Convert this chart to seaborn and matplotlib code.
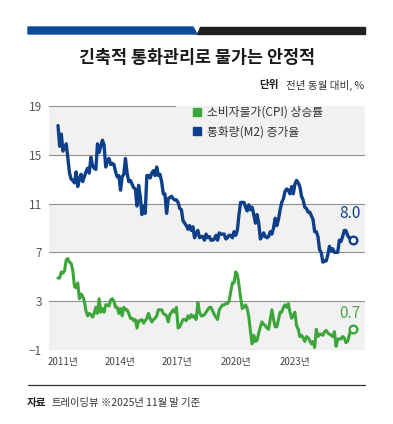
import matplotlib
matplotlib.use("Agg")
import matplotlib.pyplot as plt
from matplotlib.patches import Polygon
from matplotlib.lines import Line2D
import numpy as np
import pandas as pd
import seaborn as sns

# monthly, Jan 2011 .. Nov 2025 (year-on-year %)
cpi = [4.9, 4.9, 5.4, 5.3, 5.5, 6.4, 6.5, 6.2, 6.1, 5.5, 4.2, 4.1,
       4.5, 3.2, 3.6, 3.4, 3.0, 2.2, 1.8, 2.0, 1.9, 1.7, 2.0, 2.5,
       2.0, 3.2, 2.1, 2.4, 2.1, 2.7, 2.7, 2.6, 3.1, 3.2, 3.0, 2.5,
       2.5, 2.0, 2.4, 1.8, 2.5, 2.3, 2.3, 2.0, 1.6, 1.6, 1.4, 1.5,
       0.8, 1.4, 1.4, 1.5, 1.2, 1.4, 1.6, 2.0, 1.6, 1.3, 1.5, 1.6,
       1.8, 2.3, 2.3, 2.3, 2.0, 1.9, 1.8, 1.3, 1.9, 2.1, 2.3, 2.1,
       2.5, 0.8, 0.9, 1.2, 1.5, 1.5, 1.4, 1.8, 1.6, 1.9, 1.7, 1.8,
       1.5, 2.9, 2.1, 1.8, 1.8, 1.9, 2.1, 2.3, 2.5, 2.5, 2.2, 1.9,
       1.7, 1.5, 2.3, 2.5, 2.7, 2.7, 2.8, 2.8, 3.0, 3.8, 4.5, 4.5,
       5.4, 5.2, 4.3, 3.3, 2.4, 2.5, 2.7, 2.4, 1.7, 0.5, -0.5, 0.2,
       -0.3, -0.2, 0.4, 0.9, 1.3, 1.1, 1.0, 0.8, 0.7, 1.5, 2.3, 1.5,
       0.9, 0.9, 1.5, 2.1, 2.1, 2.5, 2.7, 2.5, 2.8, 2.1, 1.6, 1.8,
       2.1, 1.0, 0.7, 0.1, 0.2, 0.0, -0.3, 0.1, 0.0, -0.2, -0.5, -0.3,
       -0.8, 0.7, 0.1, 0.3, 0.3, 0.2, 0.5, 0.6, 0.4, 0.3, 0.2, 0.1,
       0.5, -0.7, -0.1, -0.1, -0.1, 0.1, 0.0, -0.4, -0.3, 0.2, 0.7]

m2 = [17.4, 15.7, 16.7, 15.3, 15.6, 15.9, 14.7, 13.5, 13.0, 12.9, 12.7, 13.6,
      12.4, 13.0, 13.4, 12.8, 13.2, 13.6, 13.9, 13.5, 14.8, 14.1, 13.9, 13.8,
      15.9, 15.2, 15.7, 16.2, 15.8, 14.0, 14.5, 14.7, 14.2, 14.3, 14.2, 13.6,
      13.2, 13.3, 12.1, 13.2, 13.4, 14.7, 13.5, 12.8, 12.9, 12.6, 12.3, 12.2,
      10.8, 12.5, 11.6, 10.1, 10.8, 10.2, 13.3, 13.3, 13.1, 13.5, 13.7, 13.3,
      14.0, 13.3, 13.4, 12.8, 11.8, 11.8, 10.2, 11.4, 11.5, 11.6, 11.4, 11.3,
      11.3, 11.1, 10.6, 10.5, 9.6, 9.4, 9.2, 8.9, 9.2, 8.8, 9.1, 8.2,
      8.6, 8.8, 8.2, 8.3, 8.3, 8.0, 8.5, 8.2, 8.3, 8.0, 8.0, 8.1,
      8.4, 8.0, 8.6, 8.5, 8.5, 8.5, 8.1, 8.2, 8.4, 8.4, 8.2, 8.7,
      8.4, 8.8, 10.1, 11.1, 11.1, 11.1, 10.7, 10.4, 10.9, 10.5, 10.7, 10.1,
      9.4, 10.1, 9.4, 8.1, 8.3, 8.6, 8.3, 8.2, 8.3, 8.7, 8.5, 9.0,
      9.8, 9.2, 9.7, 10.5, 11.1, 11.4, 12.0, 12.2, 12.1, 11.8, 12.4, 11.8,
      12.6, 12.9, 12.7, 12.4, 11.6, 11.3, 10.7, 10.6, 10.3, 10.3, 10.0, 9.7,
      8.7, 8.7, 8.3, 7.2, 7.0, 6.2, 6.3, 6.3, 6.8, 7.5, 7.1, 7.3,
      7.0, 7.0, 7.0, 8.0, 7.9, 8.3, 8.8, 8.8, 8.4, 8.2, 8.0]

year_labels = ["2011년", "2014년", "2017년", "2020년", "2023년"]
y_ticks = [-1, 3, 7, 11, 15, 19]
legend_labels = ["소비자물가(CPI) 상승률", "통화량(M2) 증가율"]

navy = "#0d3f8a"
green = "#3da63a"
W, H = 393, 424

sns.set_style("white")
plt.rcParams["font.family"] = ["Noto Sans CJK KR", "DejaVu Sans"]

df = pd.DataFrame({"x": 2011 + np.arange(len(m2)) / 12, "m2": m2, "cpi": cpi})

fig = plt.figure(figsize=(W / 100, H / 100), dpi=100)
ax = fig.add_axes([49 / W, 74 / H, 316 / W, 244 / H])

# alternating bands + gridlines
for lo, hi in [(15, 19), (7, 11), (-1, 3)]:
    ax.axhspan(lo, hi, color="#f1f1f1", zorder=0, lw=0)
for v in y_ticks:
    xmax = 0.4 if v == 19 else 1
    ax.axhline(v, xmin=0, xmax=xmax, color="#8f8f8f", lw=0.8, zorder=1)

sns.lineplot(data=df, x="x", y="m2", color=navy, lw=2.4, ax=ax, zorder=3)
sns.lineplot(data=df, x="x", y="cpi", color=green, lw=2.2, ax=ax, zorder=3)

# end markers and value labels
last = df.iloc[-1]
for col, c, lab, dy in [("m2", navy, "8.0", 19), ("cpi", "#4aa84a", "0.7", 11)]:
    ax.plot(last["x"] + 0.1, last[col], marker="o", ms=5.5, mfc="white",
            mec=c if col == "m2" else green, mew=1.7, zorder=4)
    ax.annotate(lab, (last["x"], last[col]), xytext=(-1, dy),
                textcoords="offset points", ha="center", va="center",
                fontsize=11, color=c)

ax.set_xlim(2010.544, 2026.55)
ax.set_ylim(-1, 19)
ax.set_xticks([2011.25, 2014.15, 2017.05, 2020.0, 2023.0])
ax.set_xticklabels(year_labels)
ax.set_yticks(y_ticks)
ax.set_yticklabels(["−1" if v < 0 else str(v) for v in y_ticks])
ax.tick_params(axis="x", length=0, pad=5, labelsize=7, labelcolor="#444444")
ax.tick_params(axis="y", length=0, pad=5, labelsize=8.5, labelcolor="#555555")
ax.set_xlabel("")
ax.set_ylabel("")
for s in ax.spines.values():
    s.set_visible(False)

handles = [Line2D([], [], marker="s", ls="none", color=green, ms=5.5),
           Line2D([], [], marker="s", ls="none", color=navy, ms=5.5)]
leg = ax.legend(handles, legend_labels, loc="upper left",
                bbox_to_anchor=((186 - 49) / 316, (350 - 100) / 244),
                frameon=False, fontsize=8.5, handlelength=0.8,
                handletextpad=0.5, labelspacing=0.55, borderpad=0)
for t in leg.get_texts():
    t.set_color("#333333")


def fx(px):
    return px / W


def fy(py):
    return 1 - py / H


# top bar
fig.patches.append(Polygon([(fx(28), fy(27)), (fx(193), fy(27)), (fx(197), fy(34)), (fx(28), fy(34))],
                           closed=True, color="#0f4a96", transform=fig.transFigure))
fig.patches.append(Polygon([(fx(200), fy(27)), (fx(365), fy(27)), (fx(365), fy(34)), (fx(197), fy(34))],
                           closed=True, color="#231f20", transform=fig.transFigure))

fig.text(fx(197), fy(58), "긴축적 통화관리로 물가는 안정적", ha="center", va="center",
         fontsize=12.5, fontweight="bold", color="#1a1a1a")
fig.text(fx(279), fy(85), "단위", ha="right", va="center", fontsize=7.6,
         fontweight="bold", color="#222222")
fig.text(fx(364), fy(85), "전년 동월 대비, %", ha="right", va="center",
         fontsize=7.6, color="#333333")

# footer
fig.add_artist(Line2D([fx(28), fx(365)], [fy(385), fy(385)], color="#333333", lw=0.9,
                      transform=fig.transFigure))
fig.text(fx(27), fy(403), "자료", ha="left", va="center", fontsize=7.6,
         fontweight="bold", color="#222222")
fig.text(fx(51), fy(403), "트레이딩뷰", ha="left", va="center", fontsize=7.4, color="#333333")
fig.text(fx(101), fy(403), "※2025년 11월 말 기준", ha="left", va="center", fontsize=7.4,
         color="#333333")

fig.savefig("out.png", dpi=100)
